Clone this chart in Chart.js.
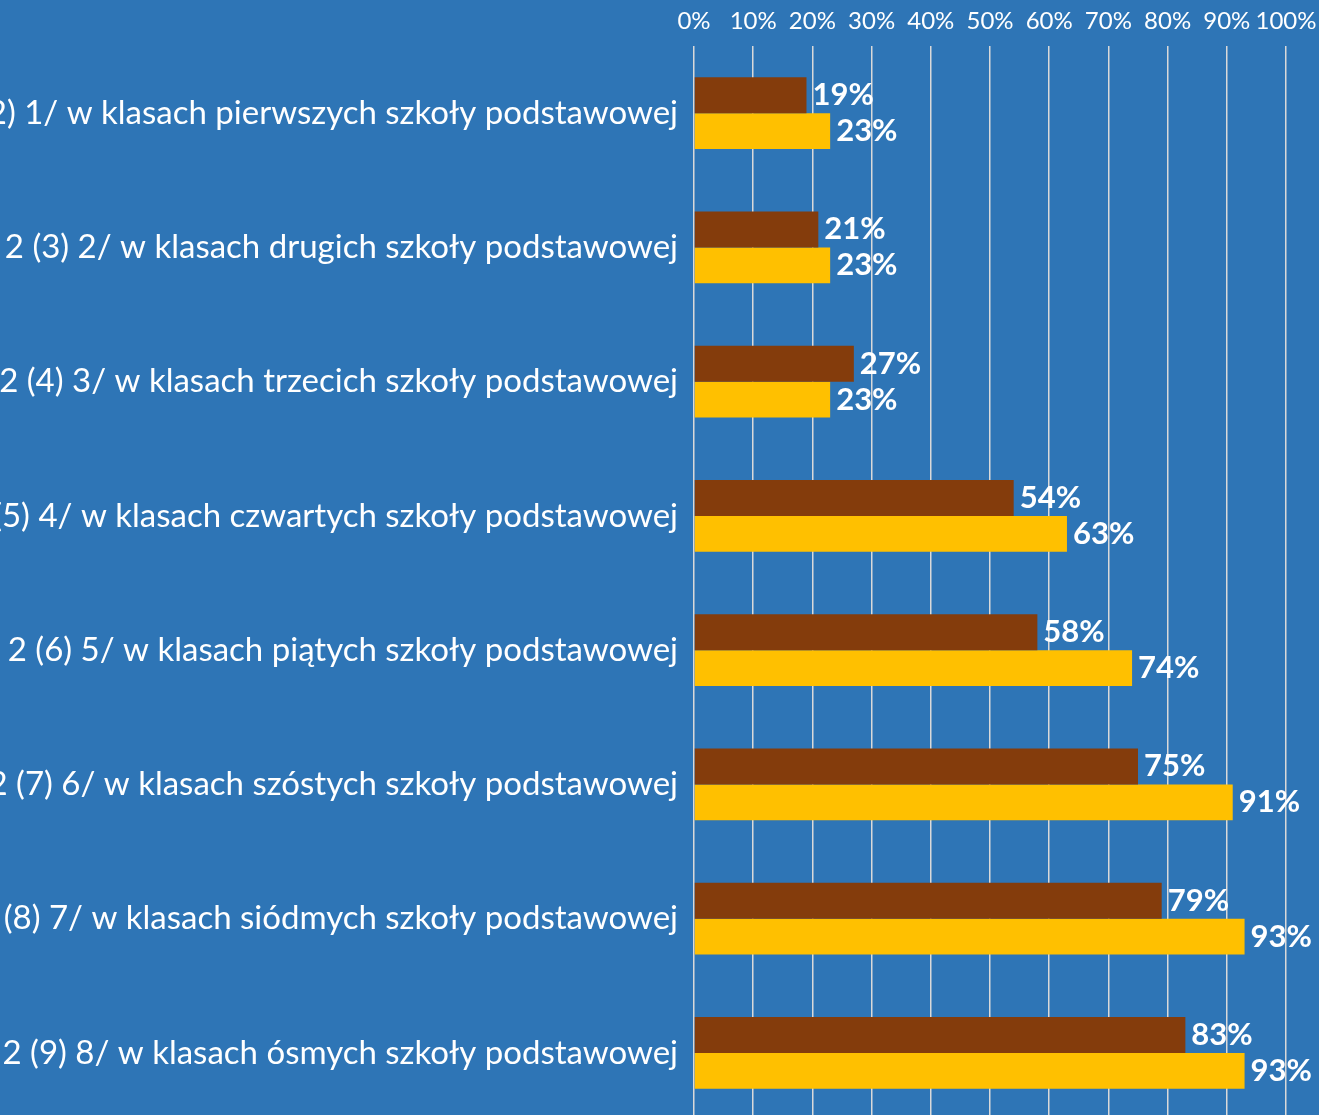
<!DOCTYPE html>
<html>
<head>
<meta charset="utf-8">
<script src="https://cdn.jsdelivr.net/npm/chart.js@4.4.0/dist/chart.umd.min.js"></script>
<style>
  html, body { margin:0; padding:0; width:1319px; height:1115px; overflow:hidden; background:#2E75B6; }
  #wrap { position:absolute; left:-300px; top:0; width:1619px; height:1120px; }
</style>
</head>
<body>
<div id="wrap"><canvas id="c" width="1619" height="1120"></canvas></div>
<script>
const categories = [
  "2 (2) 1/ w klasach pierwszych szkoły podstawowej",
  "2 (3) 2/ w klasach drugich szkoły podstawowej",
  "2 (4) 3/ w klasach trzecich szkoły podstawowej",
  "2 (5) 4/ w klasach czwartych szkoły podstawowej",
  "2 (6) 5/ w klasach piątych szkoły podstawowej",
  "2 (7) 6/ w klasach szóstych szkoły podstawowej",
  "2 (8) 7/ w klasach siódmych szkoły podstawowej",
  "2 (9) 8/ w klasach ósmych szkoły podstawowej"
];
const seriesBrown = [19, 21, 27, 54, 58, 75, 79, 83];
const seriesYellow = [23, 23, 23, 63, 74, 91, 93, 93];
const xTicks = [0, 10, 20, 30, 40, 50, 60, 70, 80, 90, 100];

const OFFSET = 300;
const PLOT_LEFT = 694;

const labelPlugin = {
  id: 'barLabels',
  afterDatasetsDraw(chart) {
    const ctx = chart.ctx;
    ctx.save();
    ctx.font = 'bold 31px Lato';
    ctx.fillStyle = '#FFFFFF';
    ctx.textAlign = 'left';
    ctx.textBaseline = 'middle';
    chart.data.datasets.forEach((ds, i) => {
      const meta = chart.getDatasetMeta(i);
      meta.data.forEach((el, j) => {
        ctx.fillText(ds.data[j] + '%', el.x + 6, el.y);
      });
    });
    ctx.restore();
  }
};

new Chart(document.getElementById('c'), {
  type: 'bar',
  data: {
    labels: categories,
    datasets: [
      { data: seriesBrown, backgroundColor: '#843C0C', categoryPercentage: 0.536, barPercentage: 1.0 },
      { data: seriesYellow, backgroundColor: '#FFC000', categoryPercentage: 0.536, barPercentage: 1.0 }
    ]
  },
  options: {
    indexAxis: 'y',
    responsive: false,
    animation: false,
    layout: { padding: { left: 0, right: 33, top: 0, bottom: 0 } },
    plugins: { legend: { display: false }, tooltip: { enabled: false } },
    scales: {
      x: {
        position: 'top',
        min: 0, max: 100,
        afterBuildTicks(scale) { scale.ticks = xTicks.map(v => ({ value: v })); },
        afterFit(scale) { scale.height = 46; scale.paddingLeft = 0; scale.paddingRight = 0; },
        ticks: {
          color: '#FFFFFF',
          font: { family: 'Lato', size: 24 },
          padding: 10,
          maxRotation: 0,
          autoSkip: false,
          callback: v => v + '%'
        },
        grid: { color: '#D9D9D9', lineWidth: 1.5, drawTicks: false },
        border: { display: false }
      },
      y: {
        afterFit(scale) { scale.width = PLOT_LEFT + OFFSET; scale.paddingTop = 0; scale.paddingBottom = 0; },
        ticks: {
          color: '#FFFFFF',
          font: { family: 'Lato', size: 33 },
          padding: 16,
          autoSkip: false
        },
        grid: { display: false, drawTicks: false },
        border: { display: false }
      }
    }
  },
  plugins: [labelPlugin]
});
</script>
</body>
</html>
